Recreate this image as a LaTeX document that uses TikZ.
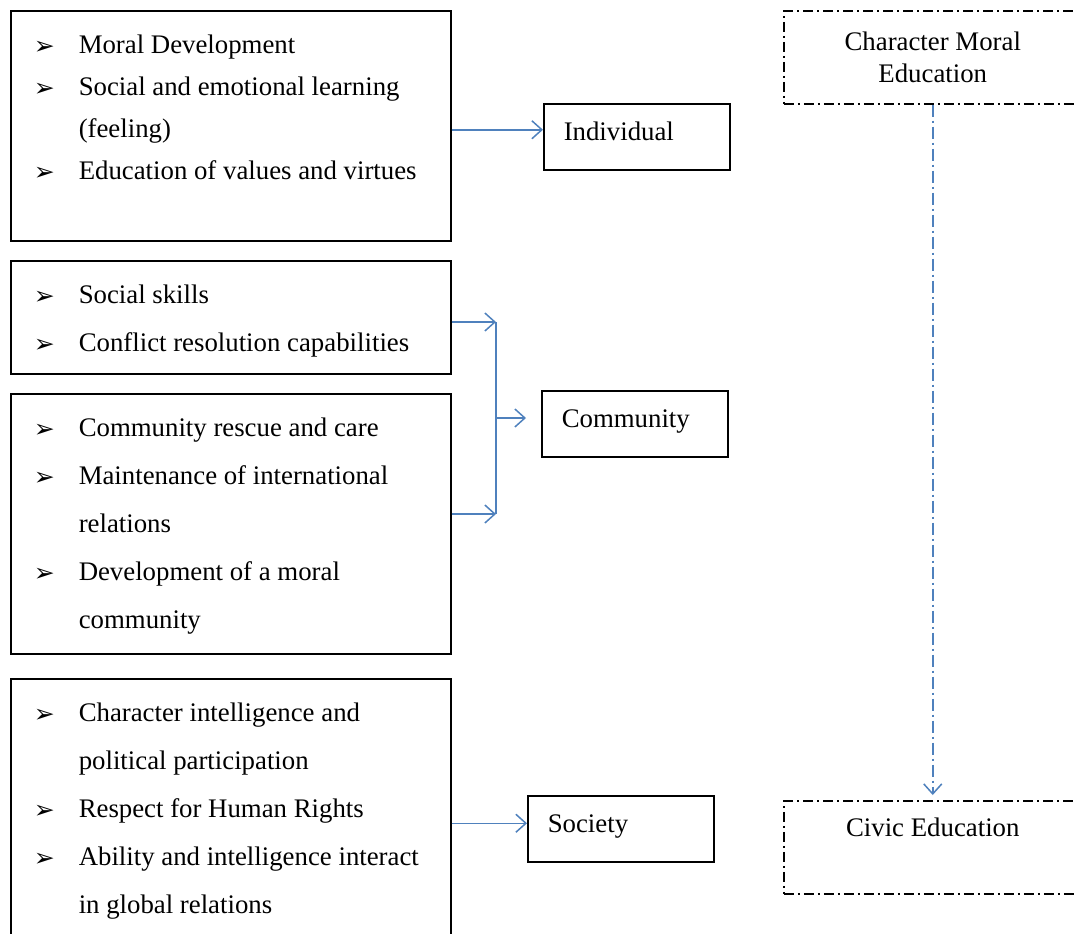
\documentclass[tikz,border=0pt]{standalone}
\usepackage{fontspec}
\setmainfont{Liberation Serif}
\newfontfamily\bulfont{DejaVu Sans}
\usetikzlibrary{arrows.meta,positioning,calc}
\definecolor{flowblue}{RGB}{79,129,189}
\newcommand{\itm}{\makebox[22.5pt][l]{\bulfont\fontsize{12.5}{12.5}\selectfont\raisebox{-0.3pt}{➢}}}
\newcommand{\cnt}{\hspace*{22.5pt}}
\newcommand{\blist}[2]{\parbox[c][#1][t]{197pt}{\rule{0pt}{21.5pt}#2}}
\tikzset{
  listbox/.style={draw, line width=0.75pt, anchor=north west, inner sep=0pt,
    inner xsep=11.5pt, minimum width=220pt, font=\fontsize{13.4}{24}\selectfont},
  levelbox/.style={draw, line width=0.75pt, anchor=north west, minimum width=93pt,
    minimum height=33pt, text width=73pt, inner xsep=10pt, inner ysep=0pt,
    align=left, text height=10pt, text depth=6pt, font=\fontsize{13.4}{16}\selectfont},
  edubox/.style={draw, line width=0.75pt, dash pattern=on 5pt off 2pt on 1pt off 2pt,
    anchor=north west, minimum width=149pt, minimum height=46.5pt, inner sep=0pt,
    align=center, font=\fontsize{13.4}{16}\selectfont},
  flow/.style={draw=flowblue, line width=0.75pt, -{Straight Barb[length=5pt,width=9pt]}}
}
\begin{document}
\begin{tikzpicture}[x=0.5pt,y=-0.5pt]
\useasboundingbox (0,0) rectangle (1075,933);
\clip (0,0) rectangle (1075,933);
% list boxes
\node[listbox, font=\fontsize{13.4}{21}\selectfont] (b1) at (10,10) {\blist{115pt}{%
  \itm Moral Development\\
  \itm Social and emotional learning\\
  \cnt (feeling)\\
  \itm Education of values and virtues}};
\node[listbox] (b2) at (10,260) {\blist{56.5pt}{%
  \itm Social skills\\
  \itm Conflict resolution capabilities}};
\node[listbox] (b3) at (10,393) {\blist{130pt}{%
  \itm Community rescue and care\\
  \itm Maintenance of international\\
  \cnt relations\\
  \itm Development of a moral\\
  \cnt community}};
\node[listbox] (b4) at (10,678) {\blist{133.5pt}{%
  \itm Character intelligence and\\
  \cnt political participation\\
  \itm Respect for Human Rights\\
  \itm Ability and intelligence interact\\
  \cnt in global relations}};
% levels
\node[levelbox] (ind) at (543,103) {Individual};
\node[levelbox] (com) at (541,390) {Community};
\node[levelbox] (soc) at (527,795) {Society};
% education
\node[edubox] (cme) at (783,10) {Character Moral\\Education};
\node[edubox, text height=9pt, text depth=20pt] (civ) at (783,800) {Civic Education};
% connectors
\coordinate (ia) at ([yshift=-2pt]b1.east);
\draw[flow] (ia) -- (ia -| ind.west);
\coordinate (j2) at (496,322);
\coordinate (j3) at (496,514);
\coordinate (jm) at ($(j2)!0.5!(j3)$);
\draw[flow] (j2 -| b2.east) -- (j2);
\draw[flow] (j3 -| b3.east) -- (j3);
\draw[draw=flowblue, line width=0.75pt] (j2) -- (j3);
\draw[flow, shorten >=7.5pt] (jm) -- (jm -| com.west);
\coordinate (sa) at ([yshift=2.75pt]soc.west);
\draw[flow] (sa -| b4.east) -- (sa);
\draw[flow, dash pattern=on 6pt off 2pt on 1pt off 2pt, shorten >=2.5pt] (cme.south) -- (civ.north);
\end{tikzpicture}
\end{document}
